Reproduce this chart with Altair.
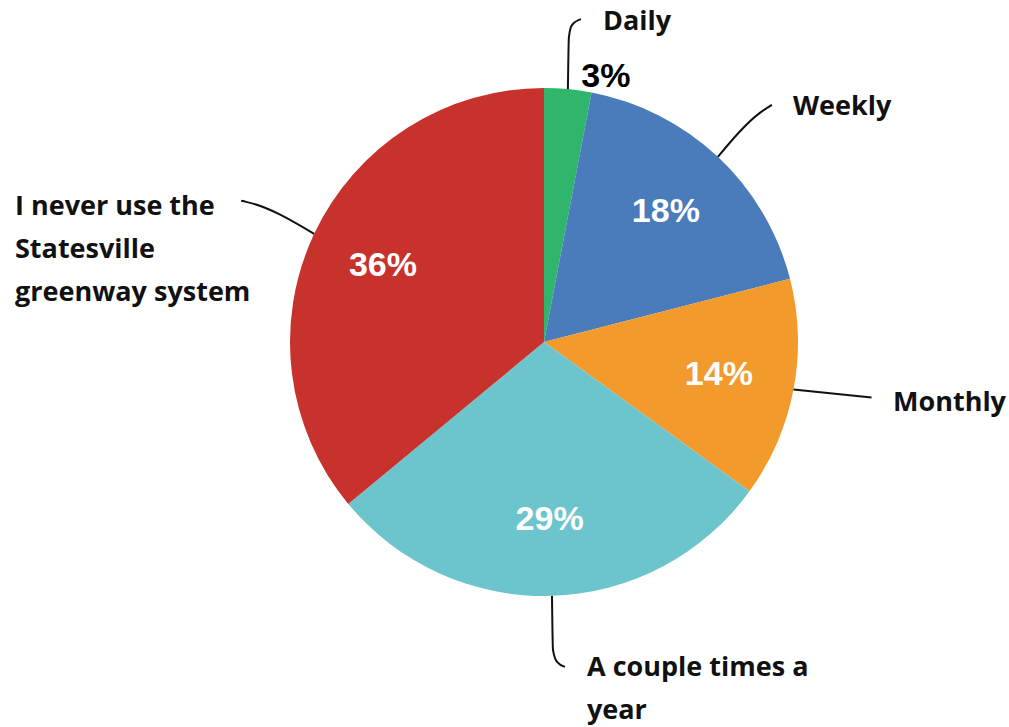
import math
import altair as alt
import pandas as pd

# ---- data ----
categories = ["Daily", "Weekly", "Monthly", "A couple times a year",
              "I never use the Statesville greenway system"]
shares = [3, 18, 14, 29, 36]
pct_labels = ["3%", "18%", "14%", "29%", "36%"]
colors = ["#2fb66c", "#4a7bba", "#f29b2c", "#6cc5cc", "#c8322c"]

# label lines (display text split into lines)
label_lines = [["Daily"], ["Weekly"], ["Monthly"], ["A couple times a", "year"],
               ["I never use the", "Statesville", "greenway system"]]

# ---- layout ----
W, H = 1009, 727
CX, CY, R = 544, 342, 254
INNER_R = 178
LINE_H = 43
# per category: leader path offsets relative to the slice edge point, label anchor
leader_offsets = [
    [(0, 0), (1, -52), (4, -64), (13, -70)],
    [(0, 0), (42, -44), (54, -52)],
    [(0, 0), (78, 8)],
    [(0, 0), (1, 54), (5, 66), (13, 71)],
    [(0, 0), (-68, -32), (-73, -33)],
]
label_anchor = [(603, 22), (793, 107), (893, 403), (587, 668), (15, 207)]

df = pd.DataFrame({"cat": categories, "share": shares, "pct": pct_labels,
                   "order": list(range(len(categories)))})

# slice mid angles derived from the data
total = sum(shares)
mids = []
cum = 0
for s in shares:
    mids.append((cum + s / 2) / total * 2 * math.pi)
    cum += s

lead_rows = []
for i, a in enumerate(mids):
    ex = CX + R * math.sin(a)
    ey = CY - R * math.cos(a)
    for k, (ox, oy) in enumerate(leader_offsets[i]):
        lead_rows.append({"cat": categories[i], "k": k, "px": ex + ox, "py": ey + oy})
lead_df = pd.DataFrame(lead_rows)

lab_rows = []
for i, lines in enumerate(label_lines):
    x0, y0 = label_anchor[i]
    for j, t in enumerate(lines):
        lab_rows.append({"t": t, "px": x0, "py": y0 + j * LINE_H})
lab_df = pd.DataFrame(lab_rows)

# outside "3%" label for the small slice
small_df = pd.DataFrame({"t": [pct_labels[0]],
                         "px": [CX + R * math.sin(mids[0]) + 38],
                         "py": [CY - R * math.cos(mids[0]) - 12]})

color_scale = alt.Scale(domain=categories, range=colors)

pie = alt.Chart(df).mark_arc(outerRadius=R).encode(
    theta=alt.Theta("share:Q", stack=True),
    order=alt.Order("order:Q"),
    color=alt.Color("cat:N", scale=color_scale, legend=None),
    x=alt.value(CX), y=alt.value(CY),
)

inner = alt.Chart(df).mark_text(
    radius=INNER_R, font="Liberation Sans", fontWeight="bold", fontSize=34,
    color="white", align="center", baseline="middle",
).encode(
    theta=alt.Theta("share:Q", stack=True),
    order=alt.Order("order:Q"),
    text=alt.condition(alt.datum.cat == categories[0], alt.value(""), alt.Text("pct:N")),
    x=alt.value(CX), y=alt.value(CY),
)

small = alt.Chart(small_df).mark_text(
    font="Liberation Sans", fontWeight="bold", fontSize=34, color="black",
    align="center", baseline="middle",
).encode(x=alt.X("px:Q", scale=None), y=alt.Y("py:Q", scale=None), text="t:N")

leaders = alt.Chart(lead_df).mark_line(color="#111111", strokeWidth=2, interpolate="monotone").encode(
    x=alt.X("px:Q", scale=None), y=alt.Y("py:Q", scale=None),
    detail="cat:N", order="k:Q",
)

labels = alt.Chart(lab_df).mark_text(
    font="Open Sans", fontWeight="bold", fontSize=27, color="#111111",
    align="left", baseline="middle",
).encode(x=alt.X("px:Q", scale=None), y=alt.Y("py:Q", scale=None), text="t:N")

chart = alt.layer(pie, inner, small, leaders, labels).properties(
    width=W, height=H, autosize=alt.AutoSizeParams(type="none"), padding=0,
    background="white",
).configure_view(stroke=None)

chart.save("out.html", embed_options={"renderer": "svg", "actions": False})
